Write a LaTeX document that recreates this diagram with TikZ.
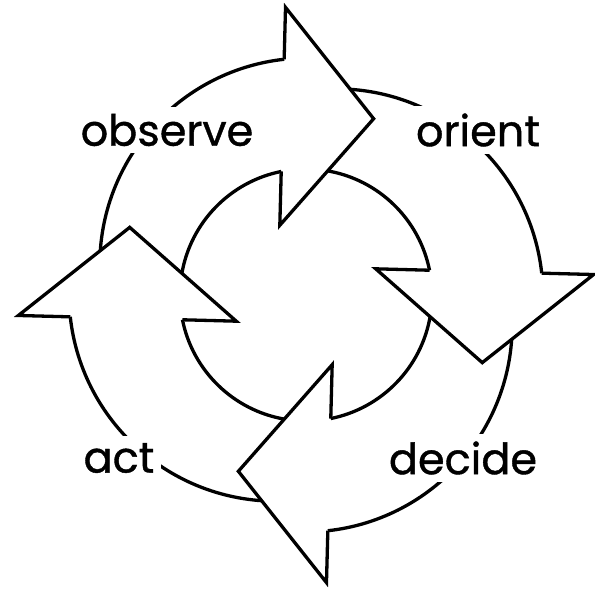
\documentclass[tikz,border=0pt]{standalone}
\usepackage{fontspec}
\setmainfont{Poppins}
\newfontfamily\lblfont{Poppins}[FakeBold=0.9]
\begin{document}
\begin{tikzpicture}[x=1pt, y=1pt, line width=3.3pt,
  every node/.style={font=\lblfont\fontsize{43}{43}\selectfont, fill=white, inner sep=7pt}]
\useasboundingbox (-306,-295) rectangle (289,295);
\coordinate (C) at (0,0);
% one quarter (inner arc, outer arc, head), turned four times
\begin{scope}[rotate=-1.5]
\foreach \k in {0,1,2,3}{
  \begin{scope}[rotate=-90*\k]
    \draw (C)+(171.58:126) arc[start angle=171.58, end angle=102.84, radius=126];
    \draw (0,30)+(177.52:207) arc[start angle=177.52, end angle=97.77, radius=207];
    \draw (-28,235.1) -- (-28,287) -- (63,178) -- (-28,69) -- (-28,122.85);
  \end{scope}
}
\end{scope}
\node (obs) at (-139,165) {observe};
\node (ori) at (172,165) {orient};
\node (dec) at (157,-163) {decide};
\node (act) at (-187,-163) {act};
\end{tikzpicture}
\end{document}
